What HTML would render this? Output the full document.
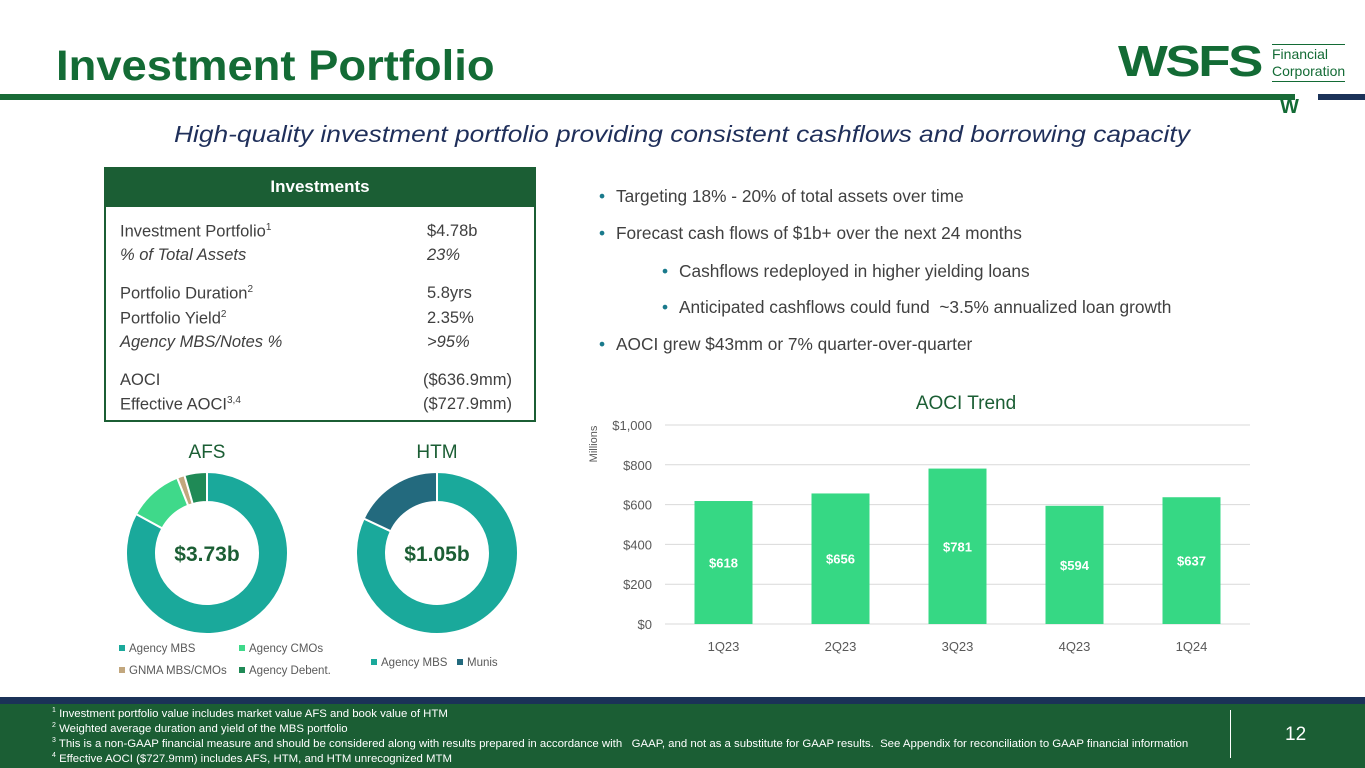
<!DOCTYPE html>
<html><head><meta charset="utf-8"><style>
*{margin:0;padding:0;box-sizing:border-box}
body{width:1365px;height:768px;position:relative;background:#fff;font-family:"Liberation Sans",sans-serif;overflow:hidden;color:#404040}
.abs{position:absolute}
.row{position:absolute;left:120px;font-size:16.5px;color:#404040;width:410px}
.row span.r{position:absolute;left:307px}
.row sup{font-size:10px}
.bul{position:absolute;left:616px;font-size:17.3px;color:#404040;white-space:nowrap}
.bul::before{content:"•";color:#1a7a8c;position:absolute;left:-17px}
.fn{position:absolute;left:52px;font-size:11.4px;color:#fff;white-space:nowrap}
.fn sup{font-size:7px}
</style></head><body>
<div class="abs" style="left:56px;top:42px;font-size:43px;font-weight:bold;color:#136b35;transform:scaleX(1.055);transform-origin:left top">Investment Portfolio</div>
<div class="abs" style="left:0;top:94px;width:1295px;height:6px;background:#196b37"></div>
<div class="abs" style="left:1318px;top:94px;width:47px;height:6px;background:#1b3258"></div>
<div class="abs" style="left:1118px;top:40px;font-size:44px;font-weight:bold;color:#136b35;letter-spacing:-2px;line-height:44px;transform:scaleX(1.2);transform-origin:left top">WSFS</div>
<div class="abs" style="left:1272px;top:44px;font-size:14px;line-height:17px;color:#136b35;border-top:1px solid #136b35;border-bottom:1px solid #136b35;padding:1px 0">Financial<br>Corporation</div>
<div class="abs" style="left:1280px;top:96px;font-size:20px;font-weight:bold;color:#136b35">W</div>
<div class="abs" style="left:174px;top:121px;font-size:23px;font-style:italic;color:#1f2f5a;white-space:nowrap;transform:scaleX(1.145);transform-origin:left top">High-quality investment portfolio providing consistent cashflows and borrowing capacity</div>

<div class="abs" style="left:104px;top:167px;width:432px;height:255px;border:2px solid #1b5e34"></div>
<div class="abs" style="left:104px;top:167px;width:432px;height:40px;background:#1b5e34;color:#fff;font-weight:bold;font-size:17px;text-align:center;line-height:40px">Investments</div>
<div class="row" style="top:222px">Investment Portfolio<sup>1</sup><span class="r">$4.78b</span></div>
<div class="row" style="top:246px;font-style:italic">% of Total Assets<span class="r">23%</span></div>
<div class="row" style="top:284px">Portfolio Duration<sup>2</sup><span class="r">5.8yrs</span></div>
<div class="row" style="top:309px">Portfolio Yield<sup>2</sup><span class="r">2.35%</span></div>
<div class="row" style="top:333px;font-style:italic">Agency MBS/Notes %<span class="r">&gt;95%</span></div>
<div class="row" style="top:371px">AOCI<span class="r" style="left:303px">($636.9mm)</span></div>
<div class="row" style="top:395px">Effective AOCI<sup>3,4</sup><span class="r" style="left:303px">($727.9mm)</span></div>

<div class="bul" style="top:186px">Targeting 18% - 20% of total assets over time</div>
<div class="bul" style="top:223px">Forecast cash flows of $1b+ over the next 24 months</div>
<div class="bul" style="top:261px;left:679px">Cashflows redeployed in higher yielding loans</div>
<div class="bul" style="top:297px;left:679px">Anticipated cashflows could fund &nbsp;~3.5% annualized loan growth</div>
<div class="bul" style="top:334px">AOCI grew $43mm or 7% quarter-over-quarter</div>

<svg class="abs" style="left:0;top:0" width="1365" height="700" id="charts"></svg>

<div class="abs" style="left:0;top:697px;width:1365px;height:7px;background:#1b3258"></div>
<div class="abs" style="left:0;top:704px;width:1365px;height:64px;background:#1b5e34"></div>
<div class="fn" style="top:707px"><sup>1</sup> Investment portfolio value includes market value AFS and book value of HTM</div>
<div class="fn" style="top:722px"><sup>2</sup> Weighted average duration and yield of the MBS portfolio</div>
<div class="fn" style="top:737px"><sup>3</sup> This is a non-GAAP financial measure and should be considered along with results prepared in accordance with &nbsp; GAAP, and not as a substitute for GAAP results. &nbsp;See Appendix for reconciliation to GAAP financial information</div>
<div class="fn" style="top:752px"><sup>4</sup> Effective AOCI ($727.9mm) includes AFS, HTM, and HTM unrecognized MTM</div>
<div class="abs" style="left:1230px;top:710px;width:1px;height:48px;background:#fff"></div>
<div class="abs" style="left:1285px;top:724px;font-size:19px;color:#fff">12</div>

<script>
const categories=["1Q23","2Q23","3Q23","4Q23","1Q24"];
const aociValues=[618,656,781,594,637];
const yTicks=[0,200,400,600,800,1000];
const afsLabels=["Agency MBS","Agency CMOs","GNMA MBS/CMOs","Agency Debent."];
const afsValues=[83,11,1.5,4.5];
const afsColors=["#1aa99b","#3fd98a","#c2a77e","#1f8a56"];
const htmLabels=["Agency MBS","Munis"];
const htmValues=[82,18];
const htmColors=["#1aa99b","#236a7e"];

const NS="http://www.w3.org/2000/svg";
const svg=document.getElementById('charts');
function mk(t,a,p){const e=document.createElementNS(NS,t);for(const k in a)e.setAttribute(k,a[k]);(p||svg).appendChild(e);return e;}
function txt(x,y,s,a){const e=mk('text',Object.assign({x:x,y:y},a));e.textContent=s;return e;}

const x0=665,x1=1250,yB=624,yT=425,maxV=1000;
const yS=v=>yB-(v/maxV)*(yB-yT);
const bw=(x1-x0)/categories.length;
const xC=i=>x0+bw*(i+0.5);
yTicks.forEach(t=>{
  const l=mk('line',{x1:x0,x2:x1,y1:yS(t),y2:yS(t),stroke:"#d9d9d9","stroke-width":1});
  
  
  const e=txt(652,yS(t)+5,"$"+t.toLocaleString('en-US'),{"text-anchor":"end","font-size":13,fill:"#595959","font-family":"Liberation Sans"});
  
  
});
aociValues.forEach((v,i)=>{
  const b=mk('rect',{x:xC(i)-29,y:yS(v),width:58,height:yB-yS(v),fill:"#36d884"});
  
  
  const lb=txt(xC(i),(yS(v)+yB)/2+5,"$"+v,{"text-anchor":"middle","font-size":13,"font-weight":"bold",fill:"#fff","font-family":"Liberation Sans"});
  
  
  const cl=txt(xC(i),651,categories[i],{"text-anchor":"middle","font-size":13,fill:"#595959","font-family":"Liberation Sans"});
  
  
});
const ct=txt(966,409,"AOCI Trend",{"text-anchor":"middle","font-size":19,fill:"#1b5e34","font-family":"Liberation Sans"});


const yt=txt(0,0,"Millions",{"text-anchor":"middle","font-size":11,fill:"#595959","font-family":"Liberation Sans",transform:"translate(597,444) rotate(-90)"});



function donut(cx,cy,vals,cols,name){
  const tot=vals.reduce((a,b)=>a+b,0);const R=81,r=51;let a=-Math.PI/2;
  vals.forEach((v,i)=>{
    const a2=a+v/tot*2*Math.PI;const lg=(a2-a)>Math.PI?1:0;
    const p=(ang,rad)=>[cx+rad*Math.cos(ang),cy+rad*Math.sin(ang)];
    const [ax,ay]=p(a,R),[bx,by]=p(a2,R),[cx2,cy2]=p(a2,r),[dx,dy]=p(a,r);
    const s=mk('path',{d:`M${ax},${ay}A${R},${R} 0 ${lg} 1 ${bx},${by}L${cx2},${cy2}A${r},${r} 0 ${lg} 0 ${dx},${dy}Z`,fill:cols[i],stroke:"#fff","stroke-width":2});
    
    
    a=a2;
  });
}
donut(207,553,afsValues,afsColors,'afs');
donut(437,553,htmValues,htmColors,'htm');
[[207,"AFS"],[437,"HTM"]].forEach(([x,s])=>{const e=txt(x,458,s,{"text-anchor":"middle","font-size":19,fill:"#1b5e34","font-family":"Liberation Sans"});

});
[[207,"$3.73b"],[437,"$1.05b"]].forEach(([x,s])=>{const e=txt(x,561,s,{"text-anchor":"middle","font-size":21,"font-weight":"bold",fill:"#1b5e34","font-family":"Liberation Sans"});

});
const afsPos=[[127,652],[247,652],[127,674],[247,674]];
afsLabels.forEach((l,i)=>{
  const r=mk('rect',{x:afsPos[i][0]-8,y:afsPos[i][1]-7,width:6,height:6,fill:afsColors[i]});
  
  
  const e=txt(afsPos[i][0]+2,afsPos[i][1],l,{"font-size":11.5,fill:"#595959","font-family":"Liberation Sans"});
  
  
});
const htmPos=[[379,666],[465,666]];
htmLabels.forEach((l,i)=>{
  const r=mk('rect',{x:htmPos[i][0]-8,y:htmPos[i][1]-7,width:6,height:6,fill:htmColors[i]});
  
  
  const e=txt(htmPos[i][0]+2,htmPos[i][1],l,{"font-size":11.5,fill:"#595959","font-family":"Liberation Sans"});
  
  
});
</script>
</body></html>
